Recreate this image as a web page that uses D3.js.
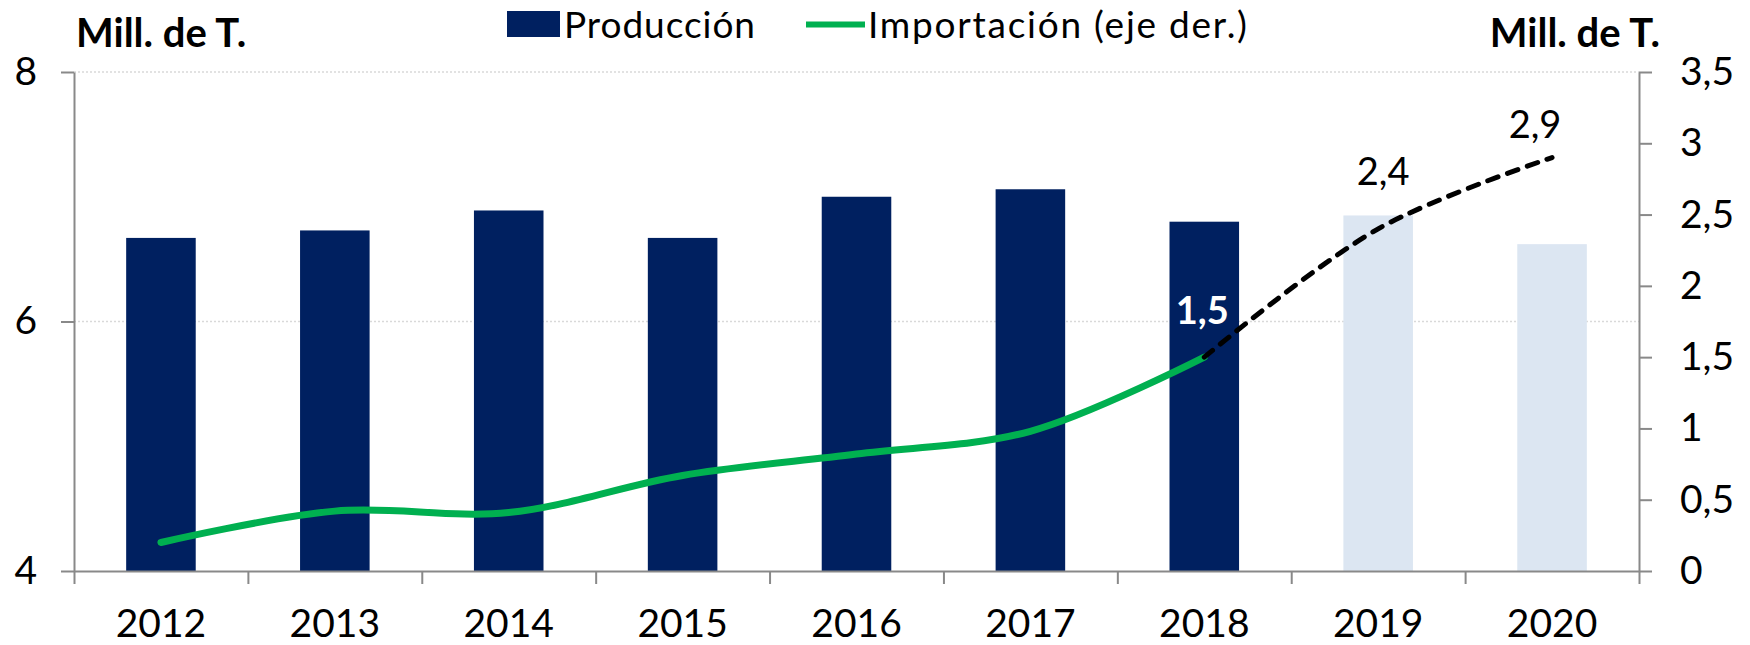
<!DOCTYPE html>
<html>
<head>
<meta charset="utf-8">
<script src="https://cdn.jsdelivr.net/npm/d3@7"></script>
<style>
  html, body { margin: 0; padding: 0; background: #fff; }
  svg { display: block; }
  text { font-family: Lato, "Open Sans", sans-serif; fill: #000; }
</style>
</head>
<body>
<svg id="chart" width="1750" height="645"></svg>
<script>
// ---------- DATA ----------
const years = ["2012", "2013", "2014", "2015", "2016", "2017", "2018", "2019", "2020"];
const produccion = [6.67, 6.73, 6.89, 6.67, 7.00, 7.06, 6.80, 6.85, 6.62];
const produccionProyectada = [false, false, false, false, false, false, false, true, true];
const importacionYears = ["2012", "2013", "2014", "2015", "2016", "2017", "2018"];
const importacion = [0.20, 0.42, 0.41, 0.67, 0.82, 0.98, 1.50];
const importacionProyYears = ["2018", "2019", "2020"];
const importacionProy = [1.50, 2.40, 2.90];
const leftTicks = [4, 6, 8];
const rightTicks = [0, 0.5, 1, 1.5, 2, 2.5, 3, 3.5];
const labeledPoints = [
  { year: "2018", value: 1.5, text: "1,5", bold: true, color: "#ffffff", dx: -2, dy: -33 },
  { year: "2019", value: 2.4, text: "2,4", bold: false, color: "#000000", dx: 5, dy: -44 },
  { year: "2020", value: 2.9, text: "2,9", bold: false, color: "#000000", dx: -17, dy: -20 }
];
const legendLabels = ["Producción", "Importación (eje der.)"];
const axisTitle = "Mill. de T.";

// ---------- LAYOUT ----------
const M = { left: 74, right: 1639, top: 72, bottom: 571 };
const C = {
  bar: "#002060", barProy: "#DCE6F2", green: "#00B050",
  axis: "#898989", grid: "#d9d9d9"
};
const svg = d3.select("#chart");

const x = d3.scaleBand().domain(years).range([M.left, M.right])
  .paddingInner(0.6).paddingOuter(0.3);
const xIdx = d3.scaleLinear().domain([0, years.length]).range([M.left, M.right]);
const yL = d3.scaleLinear().domain([4, 8]).range([M.bottom, M.top]);
const yR = d3.scaleLinear().domain([0, 3.5]).range([M.bottom, M.top]);
const cx = d => x(d) + x.bandwidth() / 2;

// gridlines
svg.append("g")
  .selectAll("line").data(leftTicks.filter(t => t > 4)).join("line")
  .attr("x1", M.left).attr("x2", M.right)
  .attr("y1", d => yL(d)).attr("y2", d => yL(d))
  .attr("stroke", C.grid).attr("stroke-width", 1.5).attr("stroke-dasharray", "2,2");

// bars
svg.append("g").selectAll("rect").data(years).join("rect")
  .attr("x", d => x(d))
  .attr("width", x.bandwidth())
  .attr("y", (d, i) => yL(produccion[i]))
  .attr("height", (d, i) => yL(4) - yL(produccion[i]))
  .attr("fill", (d, i) => produccionProyectada[i] ? C.barProy : C.bar);

// axes
const fontSize = 39;
function styleAxis(g) {
  g.select(".domain").attr("stroke", C.axis).attr("stroke-width", 2);
  g.selectAll(".tick line").attr("stroke", C.axis).attr("stroke-width", 2);
  g.selectAll("text").attr("font-size", fontSize).attr("font-family", "Lato, sans-serif").attr("fill", "#000");
}
const gL = svg.append("g").attr("transform", `translate(${M.left},0)`)
  .call(d3.axisLeft(yL).tickValues(leftTicks).tickSize(13).tickSizeOuter(0).tickPadding(24)
    .tickFormat(d3.format("d")));
styleAxis(gL);

const fmtR = v => String(v).replace(".", ",");
const gR = svg.append("g").attr("transform", `translate(${M.right},0)`)
  .call(d3.axisRight(yR).tickValues(rightTicks).tickSize(13).tickSizeOuter(0).tickPadding(28)
    .tickFormat(fmtR));
styleAxis(gR);

const gB = svg.append("g").attr("transform", `translate(0,${M.bottom})`)
  .call(d3.axisBottom(xIdx).tickValues(d3.range(years.length + 1)).tickSize(13).tickSizeOuter(0).tickFormat(""));
styleAxis(gB);
const gBL = svg.append("g").attr("transform", `translate(0,${M.bottom})`)
  .call(d3.axisBottom(x).tickSize(0).tickPadding(0));
gBL.select(".domain").remove();
gBL.selectAll("text").attr("font-size", fontSize).attr("fill", "#000")
  .attr("dy", 0).attr("y", 66);

// lines
const lineGen = d3.line().curve(d3.curveCatmullRom.alpha(0.5))
  .x(d => cx(d[0])).y(d => yR(d[1]));
svg.append("path")
  .datum(importacionYears.map((y, i) => [y, importacion[i]]))
  .attr("d", lineGen).attr("fill", "none")
  .attr("stroke", C.green).attr("stroke-width", 7).attr("stroke-linecap", "round");
svg.append("path")
  .datum(importacionProyYears.map((y, i) => [y, importacionProy[i]]))
  .attr("d", lineGen).attr("fill", "none")
  .attr("stroke", "#000").attr("stroke-width", 5)
  .attr("stroke-dasharray", "11,10").attr("stroke-linecap", "round");

// data labels
svg.append("g").selectAll("text").data(labeledPoints).join("text")
  .attr("x", d => cx(d.year) + d.dx)
  .attr("y", d => yR(d.value) + d.dy)
  .attr("text-anchor", "middle")
  .attr("font-size", 38)
  .attr("font-weight", d => d.bold ? 700 : 400)
  .style("fill", d => d.color)
  .text(d => d.text);

// axis titles
svg.append("text").attr("x", 76).attr("y", 47)
  .attr("font-size", 40).attr("font-weight", 700).text(axisTitle);
svg.append("text").attr("x", 1660).attr("y", 47).attr("text-anchor", "end")
  .attr("font-size", 40).attr("font-weight", 700).text(axisTitle);

// legend
const lg = svg.append("g");
lg.append("rect").attr("x", 507).attr("y", 11).attr("width", 53).attr("height", 26).attr("fill", C.bar);
lg.append("text").attr("x", 564).attr("y", 38).attr("font-size", 37)
  .attr("textLength", 191).attr("lengthAdjust", "spacing").text(legendLabels[0]);
lg.append("line").attr("x1", 806).attr("x2", 865).attr("y1", 24.5).attr("y2", 24.5)
  .attr("stroke", C.green).attr("stroke-width", 6);
lg.append("text").attr("x", 868).attr("y", 38).attr("font-size", 37)
  .attr("textLength", 379).attr("lengthAdjust", "spacing").text(legendLabels[1]);
</script>
</body>
</html>
